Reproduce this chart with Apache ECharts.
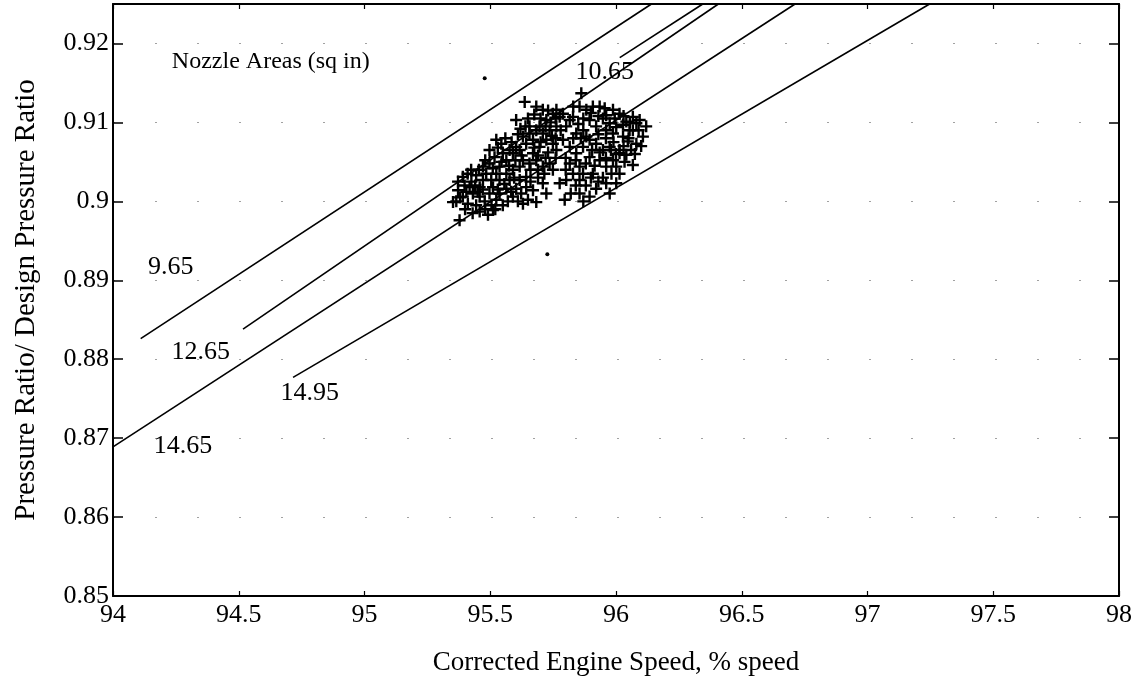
<!DOCTYPE html>
<html>
<head>
<meta charset="utf-8">
<script src="https://cdn.jsdelivr.net/npm/echarts@6/dist/echarts.min.js"></script>
<style>
html,body{margin:0;padding:0;background:#fff;}
#chart{width:1143px;height:695px;}
</style>
</head>
<body>
<div id="chart"></div>
<script>
// ---- axis ticks ----
const xTicks = [94, 94.5, 95, 95.5, 96, 96.5, 97, 97.5, 98];
const yTicks = [0.85, 0.86, 0.87, 0.88, 0.89, 0.9, 0.91, 0.92];

// ---- nozzle-area lines (start / end points, data units) ----
const line965  = [[94.110, 0.8826], [96.141, 0.9250]];
const line1065 = [[96.015, 0.9182], [96.345, 0.9250]];
const line1265 = [[94.517, 0.8838], [96.407, 0.9250]];
const line1465 = [[94.000, 0.8689], [96.712, 0.9250]];
const line1495 = [[94.716, 0.8777], [97.247, 0.9250]];

// ---- line annotations ----
const annotTexts = ['9.65', '12.65', '14.95', '14.65', '10.65'];
const annotX = [94.230, 94.349, 94.782, 94.278, 95.955];
const annotY = [0.8917, 0.8809, 0.8757, 0.8690, 0.91635];
const titleText = 'Nozzle Areas (sq in)';
const titleX = 94.234, titleY = 0.9177;

// ---- measured operating points (+) ----
const pointsLowerLobe = [
 [95.378,0.8976],[95.352,0.8999],[95.411,0.8997],[95.458,0.8987],[95.491,0.8983],[95.511,0.8989],
 [95.372,0.9025],[95.391,0.9031],[95.424,0.9040],[95.444,0.9033],[95.418,0.9018],[95.458,0.9018],[95.484,0.9035],
 [95.524,0.9078],[95.544,0.9073],[95.517,0.9056],[95.497,0.9048],[95.537,0.9044],[95.564,0.9052],[95.590,0.9061],[95.603,0.9069],
 [95.630,0.8997],[95.683,0.8999],[95.723,0.9010],[95.709,0.9023],[95.670,0.9014],[95.643,0.9031],[95.617,0.9044],
 [95.511,0.9018],[95.537,0.9027],[95.564,0.9035],[95.590,0.9040],[95.617,0.9027],[95.643,0.9018],[95.564,0.9016],
 [95.537,0.9010],[95.497,0.9010],[95.458,0.9006],[95.431,0.9010],[95.405,0.9012],[95.372,0.9014],
 [95.471,0.9044],[95.497,0.9065],
 [95.391,0.9006],[95.444,0.8995],[95.471,0.9027],[95.504,0.9027],[95.524,0.9035],[95.577,0.9027],[95.590,0.9006],
 [95.603,0.9016],[95.550,0.9061],[95.577,0.9065],[95.524,0.9002],[95.550,0.8995],[95.610,0.9000],[95.650,0.9002],
 [95.398,0.9020],[95.425,0.9025],[95.450,0.9012],[95.478,0.9000],[95.505,0.8995],[95.530,0.9015],[95.556,0.9022],
 [95.583,0.9012],[95.623,0.9010],[95.660,0.9025],[95.690,0.9030],[95.715,0.9035],[95.455,0.9040],[95.480,0.9052],
 [95.510,0.9042],[95.545,0.9050],[95.575,0.9045],[95.600,0.9052],[95.625,0.9058],[95.530,0.9068],[95.560,0.9080],
 [95.585,0.9075],[95.610,0.9085],[95.595,0.9030],[95.470,0.9015],[95.440,0.9020],[95.410,0.9035],[95.380,0.9005],
 [95.365,0.9000],[95.400,0.8990],[95.430,0.8985],[95.480,0.8990],[95.520,0.8990],[95.570,0.9000],[95.660,0.9040],
 [95.690,0.9040]
];
const pointsCentre = [
 [95.603,0.9103],[95.637,0.9126],[95.683,0.9120],[95.709,0.9116],[95.656,0.9095],[95.696,0.9095],[95.723,0.9103],
 [95.749,0.9111],[95.776,0.9107],
 [95.630,0.9052],[95.656,0.9048],[95.683,0.9052],[95.709,0.9044],[95.736,0.9048],[95.749,0.9040],
 [95.617,0.9065],[95.643,0.9073],[95.670,0.9078],[95.696,0.9069],[95.723,0.9078],[95.749,0.9073],[95.670,0.9061],
 [95.709,0.9086],[95.683,0.9090],[95.736,0.9090],[95.763,0.9095],[95.656,0.9086],[95.630,0.9082],
 [95.650,0.9105],[95.675,0.9110],[95.700,0.9105],[95.730,0.9115],[95.760,0.9105],[95.720,0.9095],[95.745,0.9083],
 [95.700,0.9075],[95.675,0.9068],[95.730,0.9062],[95.760,0.9055],[95.780,0.9090],[95.640,0.9095],[95.620,0.9092],
 [95.690,0.9058],[95.720,0.9055],[95.760,0.9080],[95.740,0.9100]
];
const pointsUpperLobe = [
 [95.796,0.9002],[95.855,0.9010],[95.895,0.9006],[95.921,0.9016],[95.961,0.9023],[96.001,0.9023],[96.014,0.9035],
 [96.067,0.9046],[96.041,0.9059],[96.081,0.9073],[96.107,0.9082],[96.120,0.9095],[96.094,0.9103],[96.067,0.9107],
 [96.041,0.9101],[96.014,0.9111],[95.988,0.9116],[95.961,0.9109],[95.935,0.9120],[95.908,0.9120],[95.882,0.9116],
 [95.855,0.9120],[95.862,0.9137],[95.829,0.9107],[95.802,0.9095],[95.842,0.9086],[95.882,0.9082],[95.921,0.9073],
 [95.975,0.9069],[96.014,0.9061],[95.988,0.9052],[95.935,0.9052],[95.895,0.9056],[95.855,0.9044],[95.829,0.9035],
 [95.802,0.9027],[95.776,0.9023],[95.855,0.9027],[95.908,0.9035],[95.961,0.9044],[96.001,0.9044],[96.014,0.9065],
 [96.067,0.9090],[96.081,0.9099],[96.047,0.9076],[95.921,0.9095],[95.895,0.9103],[95.961,0.9090],[95.988,0.9086],
 [96.028,0.9082],
 [95.763,0.9065],[95.789,0.9078],[95.816,0.9069],[95.842,0.9061],[95.869,0.9069],[95.895,0.9078],[95.948,0.9065],
 [95.975,0.9099],[96.001,0.9094],[95.816,0.9103],[95.789,0.9111],[95.763,0.9116],[95.948,0.9105],[96.028,0.9097],
 [96.054,0.9090],[95.816,0.9048],[95.869,0.9035],[95.948,0.9030],[95.982,0.9035],[96.034,0.9050],
 [95.830,0.9120],[95.870,0.9105],[95.900,0.9112],[95.930,0.9108],[95.955,0.9118],[95.995,0.9105],[96.030,0.9108],
 [96.055,0.9100],[96.090,0.9090],[96.100,0.9070],[96.060,0.9065],[96.030,0.9070],[95.990,0.9075],[95.960,0.9080],
 [95.930,0.9085],[95.870,0.9090],[95.850,0.9098],[95.830,0.9080],[95.860,0.9080],[95.905,0.9065],[95.935,0.9062],
 [95.960,0.9055],[96.000,0.9060],[95.915,0.9045],[95.880,0.9048],[95.840,0.9052],[95.800,0.9055],[95.800,0.9040],
 [95.840,0.9020],[95.880,0.9020],[95.930,0.9025],[95.975,0.9010],[95.820,0.9010],[95.870,0.9000],[95.900,0.9030],
 [95.980,0.9065],[96.050,0.9080],[96.075,0.9060]
];
// isolated single dots
const strayDots = [[95.478,0.9156],[95.727,0.8933]];

const FONT = "'Liberation Serif','Times New Roman',serif";
const plusPath = 'path://M0,4H10V6H0ZM4,0H6V10H4Z';

function lineSeries(d){
  return {type:'line', data:d, xAxisIndex:0, yAxisIndex:0, symbol:'none', silent:true,
          lineStyle:{color:'#000', width:1.6}, z:3};
}
function plusSeries(d){
  return {type:'scatter', data:d, symbol:plusPath, symbolSize:12, silent:true,
          itemStyle:{color:'#000', opacity:1}, z:4};
}

const annotData = annotTexts.map((t,i)=>({name:t, value:[annotX[i], annotY[i]]}));

const chart = echarts.init(document.getElementById('chart'), null, {renderer:'canvas'});
chart.setOption({
  animation:false,
  backgroundColor:'#fff',
  grid:{left:113, right:24, top:4, bottom:99, containLabel:false},
  xAxis:[{
    type:'value', min:xTicks[0], max:xTicks[xTicks.length-1], interval:0.5, position:'bottom',
    name:'Corrected Engine Speed, % speed', nameLocation:'middle', nameGap:53,
    nameTextStyle:{fontFamily:FONT, fontSize:27, color:'#000'},
    axisLine:{show:true, lineStyle:{color:'#000', width:2}},
    axisTick:{show:true, inside:true, length:5, lineStyle:{color:'#000', width:1.2}},
    axisLabel:{show:true, fontFamily:FONT, fontSize:26, color:'#000', margin:6,
      formatter:v=>String(+v.toFixed(1))},
    splitLine:{show:false}
  },{
    type:'value', min:xTicks[0], max:xTicks[xTicks.length-1], interval:0.5, position:'top',
    axisLine:{show:true, lineStyle:{color:'#000', width:2}},
    axisTick:{show:true, inside:true, length:5, lineStyle:{color:'#000', width:1.2}},
    axisLabel:{show:false}, splitLine:{show:false}
  }],
  yAxis:[{
    type:'value', min:0.85, max:0.925, interval:0.01, position:'left',
    name:'Pressure Ratio/ Design Pressure Ratio', nameLocation:'middle', nameGap:72,
    nameTextStyle:{fontFamily:FONT, fontSize:29, color:'#000'},
    axisLine:{show:true, lineStyle:{color:'#000', width:2}},
    axisTick:{show:true, inside:true, length:10, lineStyle:{color:'#000', width:1.5}},
    axisLabel:{show:true, fontFamily:FONT, fontSize:26, color:'#000', margin:4,
      formatter:v=> (yTicks.some(t=>Math.abs(t-v)<1e-9) ? String(+v.toFixed(2)) : '')},
    splitLine:{show:true, lineStyle:{color:'#444', width:1, type:[2,40], opacity:0.5}}
  },{
    type:'value', min:0.85, max:0.925, interval:0.01, position:'right',
    axisLine:{show:true, lineStyle:{color:'#000', width:2}},
    axisTick:{show:true, inside:true, length:10, lineStyle:{color:'#000', width:1.5}},
    axisLabel:{show:false}, splitLine:{show:false}
  }],
  series:[
    lineSeries(line965), lineSeries(line1065), lineSeries(line1265),
    lineSeries(line1465), lineSeries(line1495),
    plusSeries(pointsLowerLobe), plusSeries(pointsCentre), plusSeries(pointsUpperLobe),
    {type:'scatter', data:strayDots, symbol:'circle', symbolSize:4, silent:true,
     itemStyle:{color:'#000', opacity:1}, z:4},
    {type:'scatter', data:annotData, symbolSize:0, silent:true, z:5,
     itemStyle:{opacity:1},
     label:{show:true, position:'inside', formatter:p=>p.name,
            fontFamily:FONT, fontSize:26, color:'#000', textBorderWidth:0}},
    {type:'scatter', data:[{name:titleText, value:[titleX, titleY]}], symbolSize:0, silent:true, z:5,
     itemStyle:{opacity:1},
     label:{show:true, position:'right', distance:0, formatter:p=>p.name,
            fontFamily:FONT, fontSize:24, color:'#000', textBorderWidth:0}}
  ]
});
</script>
</body>
</html>
